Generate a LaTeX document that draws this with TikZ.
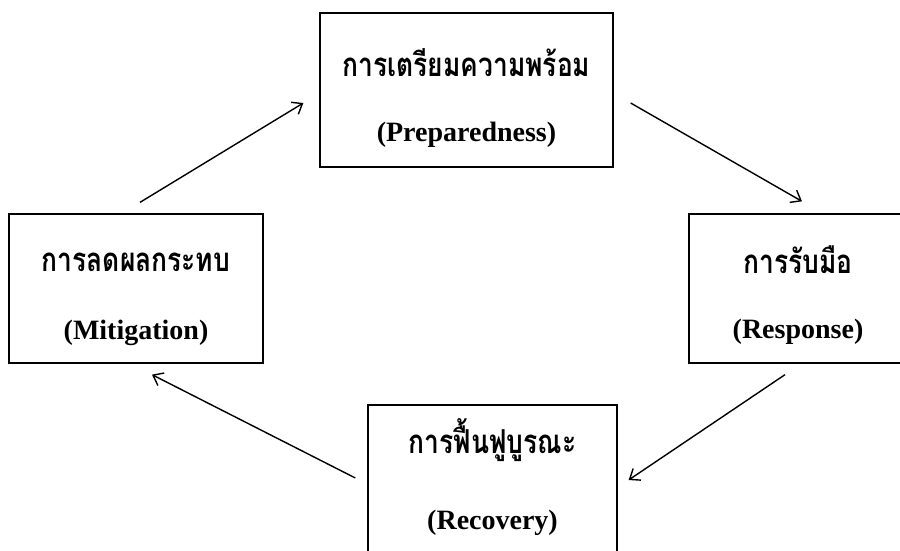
\documentclass[tikz,border=0pt]{standalone}
\usepackage{fontspec}
\setmainfont{Liberation Serif}
\newfontfamily\thaifont[Script=Thai,FakeStretch=0.8]{Loma}
\usetikzlibrary{arrows.meta,calc}

\begin{document}
\begin{tikzpicture}[x=1pt,y=-1pt,
    box/.style={draw,line width=1.3pt,inner sep=0pt},
    thai/.style={font=\thaifont\bfseries\fontsize{33}{38}\selectfont},
    eng/.style={font=\bfseries\fontsize{28}{32}\selectfont},
    arr/.style={line width=1.4pt,-{Straight Barb[length=9pt,width=14pt]}}]
  \clip (0,0) rectangle (900,550);
  \fill[white] (0,0) rectangle (900,550);
  \node[box,minimum width=293pt,minimum height=154pt] (prep) at (466.5,90) {};
  \node[box,minimum width=254pt,minimum height=149pt] (mit) at (136,288.5) {};
  \node[box,minimum width=218pt,minimum height=149pt] (resp) at (798,288.5) {};
  \node[box,minimum width=249pt,minimum height=150pt] (rec) at (492.5,480) {};
  \node[thai] (prepTh) at ($(prep.center)+(0,-27)$) {การเตรียมความพร้อม};
  \node[eng] (prepEn) at ($(prep.center)+(0,45)$) {(Preparedness)};
  \node[thai] (mitTh) at ($(mit.center)+(0,-26.5)$) {การลดผลกระทบ};
  \node[eng] (mitEn) at ($(mit.center)+(0,44.5)$) {(Mitigation)};
  \node[thai] (respTh) at ($(resp.center)+(0,-28.5)$) {การรับมือ};
  \node[eng] (respEn) at ($(resp.center)+(0,43.5)$) {(Response)};
  \node[thai] (recTh) at ($(rec.center)+(0,-40)$) {การฟื้นฟูบูรณะ};
  \node[eng] (recEn) at ($(rec.center)+(0,43)$) {(Recovery)};
  \draw[arr] ($(mit.north)+(4,-11)$) -- ($(prep.west)+(-16,13)$);
  \draw[arr] ($(prep.east)+(17,13)$) -- ($(resp.north)+(4,-12)$);
  \draw[arr] ($(resp.south)+(-13,11)$) -- ($(rec.east)+(11,0)$);
  \draw[arr] ($(rec.west)+(-12,-2)$) -- ($(mit.south)+(16,11)$);
\end{tikzpicture}
\end{document}
